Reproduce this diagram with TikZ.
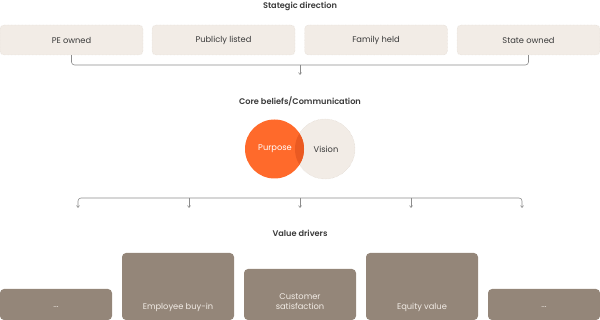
\documentclass[tikz,border=0pt]{standalone}
\usepackage{fontspec}
\setmainfont{Poppins}[BoldFont={Poppins SemiBold}]
\usetikzlibrary{arrows.meta}
\definecolor{beige}{HTML}{F2ECE6}
\definecolor{beigeline}{HTML}{D9D0C8}
\definecolor{orng}{HTML}{FF6A2B}
\definecolor{orngdark}{HTML}{EA5A22}
\definecolor{taupe}{HTML}{948679}
\definecolor{txt}{HTML}{3A3A3A}
\definecolor{conn}{HTML}{8C8C8C}
\begin{document}
\begin{tikzpicture}[x=1pt,y=-1pt,
  title/.style={font=\fontsize{8.2}{10}\selectfont\bfseries, text=txt},
  topbox/.style={fill=beige, draw=beigeline, densely dotted, line width=0.4pt, rounded corners=4pt,
    minimum width=143pt, minimum height=30pt, inner sep=0pt, font=\fontsize{8.3}{10}\selectfont, text=txt},
  botbox/.style={fill=taupe, draw=none, rounded corners=4pt, text=beige, inner sep=0pt,
    minimum width=112pt, align=center},
  lbl/.style={font=\fontsize{8.3}{10}\selectfont, text=beige, align=center},
  connline/.style={draw=conn, line width=0.6pt, rounded corners=3pt},
  arr/.style={-{Straight Barb[length=2pt,width=3pt]}, draw=conn, line width=0.6pt}
]
\useasboundingbox (0,0) rectangle (600,320);

\node[title] (t1) at (300,6) {Stategic direction};
\node[topbox] (pe) at (71.5,40) {PE owned};
\node[topbox] (pl) at (223.5,40) {Publicly listed};
\node[topbox] (fh) at (376,40) {Family held};
\node[topbox] (so) at (528.5,40) {State owned};

\coordinate (b1) at (300,65);
\coordinate (b1e) at (300,75);
\draw[connline] (pe.south) -- (pe.south |- b1) -- (so.south |- b1) -- (so.south);
\draw[arr] (b1) -- (b1e);

\node[title] (t2) at (300,101) {Core beliefs/Communication};

\node[circle, minimum size=60pt, fill=beige, draw=beigeline, densely dotted, line width=0.4pt, inner sep=0pt] (vis) at (325,149) {};
\node[circle, minimum size=59pt, fill=orng, inner sep=0pt] (pur) at (274.5,149) {};
\begin{scope}
  \clip (325,149) circle (30pt);
  \fill[orngdark] (274.5,149) circle (29.5pt);
\end{scope}
\node[font=\fontsize{8.3}{10}\selectfont, text=white] (purt) at (275,149) {Purpose};
\node[font=\fontsize{8.3}{10}\selectfont, text=txt] (vist) at (326,149) {Vision};

\coordinate (h1) at (78,208);
\coordinate (h2) at (189,208);
\coordinate (h3) at (300,208);
\coordinate (h4) at (411,208);
\coordinate (h5) at (522,208);
\coordinate (hm) at (300,198);
\draw[connline, {Straight Barb[length=2pt,width=3pt]}-{Straight Barb[length=2pt,width=3pt]}] (h1) -- (h1 |- hm) -- (h5 |- hm) -- (h5);
\draw[arr] (h2 |- hm) -- (h2);
\draw[arr] (h3 |- hm) -- (h3);
\draw[arr] (h4 |- hm) -- (h4);

\node[title] (t3) at (300,233) {Value drivers};

\node[botbox, minimum height=31pt] (d1) at (56,304.5) {};
\node[botbox, minimum height=67pt] (d2) at (178,286.5) {};
\node[botbox, minimum height=51pt] (d3) at (300,294.5) {};
\node[botbox, minimum height=67pt] (d4) at (422,286.5) {};
\node[botbox, minimum height=31pt] (d5) at (544,304.5) {};

\node[lbl] (l1) at (d1.center |- 0,307) {...};
\node[lbl] (l2) at (d2.center |- 0,307) {Employee buy-in};
\node[lbl] (l3) at (d3.center |- 0,302) {Customer\\satisfaction};
\node[lbl] (l4) at (d4.center |- 0,307) {Equity value};
\node[lbl] (l5) at (d5.center |- 0,307) {...};
\end{tikzpicture}
\end{document}
